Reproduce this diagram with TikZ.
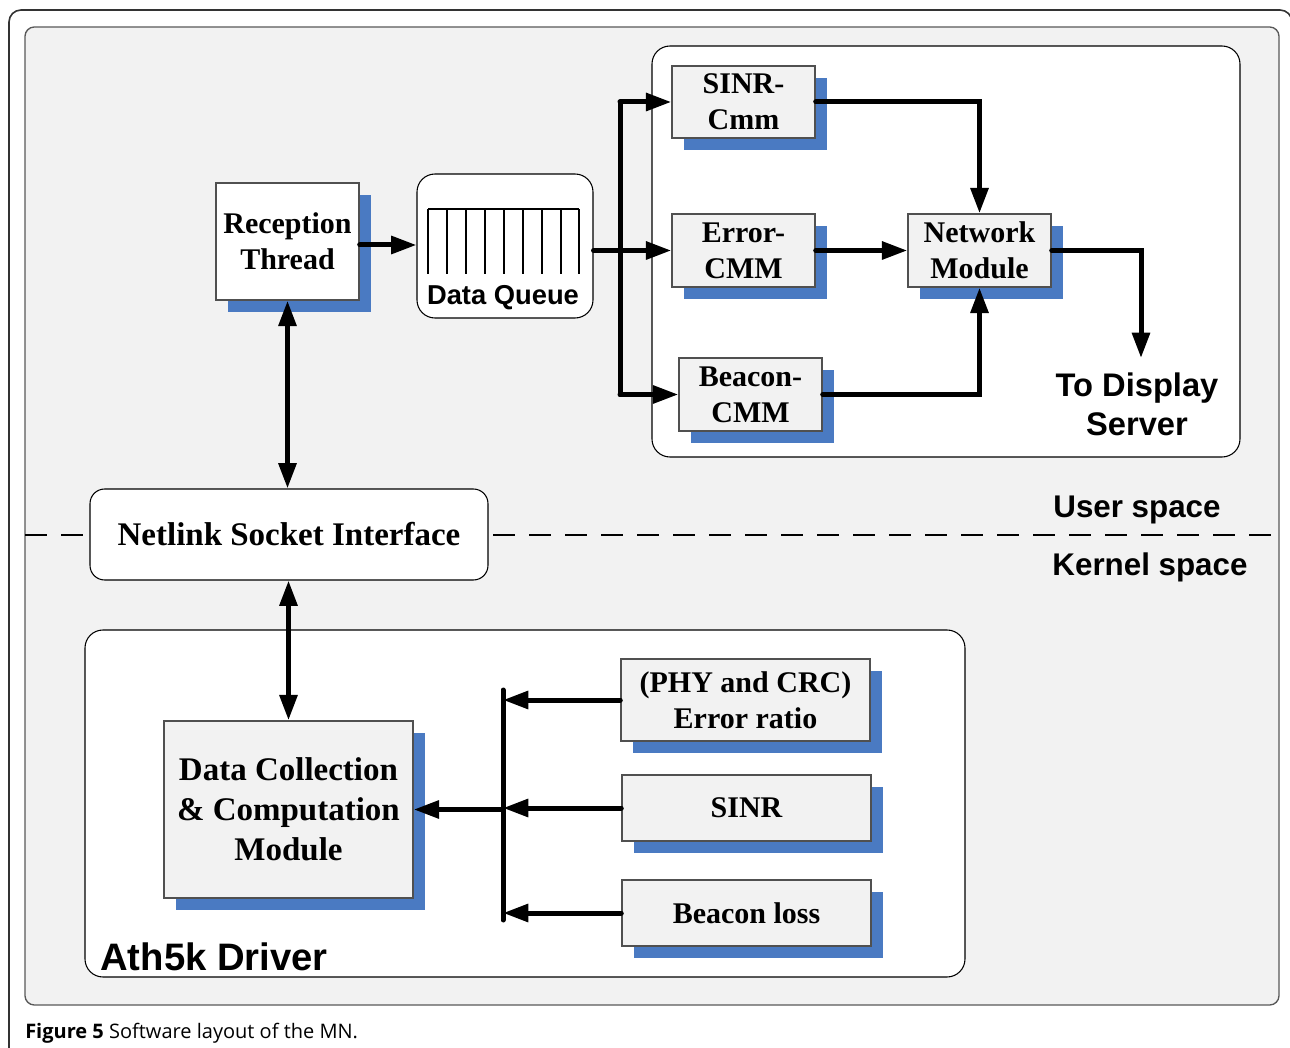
\documentclass[tikz,border=0pt]{standalone}
\usepackage{fontspec}
\setmainfont{Liberation Serif}
\setsansfont{Liberation Sans}
\newfontfamily\capfont{Open Sans}
\usetikzlibrary{arrows.meta,shadows}
\definecolor{bgray}{HTML}{F2F2F2}
\definecolor{sblue}{HTML}{4A7AC2}
\definecolor{bord}{HTML}{505050}
\begin{document}
\begin{tikzpicture}[x=0.75pt,y=-0.75pt,
  sz/.style 2 args={minimum width=#1*0.75pt, minimum height=#2*0.75pt},
  sbox/.style={draw=bord, line width=1.1pt, fill=bgray, inner sep=0pt, align=center,
    font=\fontsize{22.5}{27}\selectfont\bfseries,
    drop shadow={shadow xshift=9pt, shadow yshift=-9pt, opacity=1, fill=sblue, draw=none}},
  wbox/.style={sbox, fill=white},
  bigtxt/.style={font=\fontsize{24.75}{30}\selectfont\bfseries},
  rbox/.style={draw=black, line width=0.8pt, fill=white, rounded corners=13.5pt},
  lab/.style={font=\sffamily\bfseries\fontsize{23.5}{29}\selectfont, inner sep=0pt},
  conn/.style={line width=3.75pt, line cap=round},
  arr/.style={conn, -{Triangle[length=19pt,width=13pt]}},
  darr/.style={conn, {Triangle[length=19pt,width=13pt]}-{Triangle[length=19pt,width=13pt]}}
]
\useasboundingbox (0,0) rectangle (1290,1048);
\clip (0,0) rectangle (1290,1048);
% outer frame
\draw[line width=1.2pt, draw=black!80, rounded corners=9pt] (9,10) rectangle (1292,1100);
% inner grey panel
\draw[line width=1pt, draw=black!65, fill=bgray, rounded corners=7pt] (25,27) rectangle (1279,1005);
% user/kernel divider
\draw[line width=1.9pt, dash pattern=on 16.5pt off 10.5pt] (25,535) -- (1279,535);
% containers
\draw[rbox] (652,46) rectangle (1240,457);
\draw[rbox] (85,630) rectangle (965,977);
% boxes
\node[wbox, sz={143}{117}] (rt) at (287.5,241.5) {Reception\\Thread};
\node[sz={176}{144}, draw, line width=0.8pt, rounded corners=13.5pt, fill=white, inner sep=0pt] (dq) at (505,246) {};
\draw[line width=1.2pt] (428,209) -- (579,209);
\foreach \xx in {428,447,466,485,504,523,542,561,579} \draw[line width=1.3pt] (\xx,209) -- (\xx,274);
\node[font=\sffamily\bfseries\fontsize{20.5}{24}\selectfont, inner sep=0pt] (dqt) at (503,298) {Data Queue};
\node[sbox, sz={143}{72}] (sc) at (743.5,102) {SINR-\\Cmm};
\node[sbox, sz={143}{73}] (ec) at (743.5,250.5) {Error-\\CMM};
\node[sbox, sz={143}{73}] (bc) at (750.5,394.5) {Beacon-\\CMM};
\node[sbox, sz={143}{73}] (nm) at (979.5,250.5) {Network\\Module};
\node[lab, font=\sffamily\bfseries\fontsize{24.5}{29.5}\selectfont, align=center] (disp) at (1137,404) {To Display\\Server};
\node[sz={398}{91}, draw, line width=0.8pt, rounded corners=11pt, fill=white, inner sep=0pt, bigtxt] (ns) at (289,534.5) {Netlink Socket Interface};
\node[lab, anchor=base] (us) at (1137,518) {User space};
\node[lab, anchor=base] (ks) at (1150,576) {Kernel space};
\node[sbox, sz={249}{177}, bigtxt] (dc) at (288.5,809.5) {Data Collection\\\& Computation\\Module};
\node[sbox, sz={249}{82}] (pe) at (745.5,700) {(PHY and CRC)\\Error ratio};
\node[sbox, sz={249}{66}] (si) at (746.5,808) {SINR};
\node[sbox, sz={249}{66}] (bl) at (746.5,913) {Beacon loss};
\node[font=\sffamily\bfseries\fontsize{28.7}{34}\selectfont, inner sep=0pt, anchor=base west] (ath) at (100,970) {Ath5k Driver};
\node[font=\capfont\fontsize{15}{18}\selectfont, inner sep=0pt, anchor=base west] (cap) at (25,1038) {\textbf{Figure 5} Software layout of the MN.};
% upper connectors
\coordinate (bx) at (620,0);
\draw[arr] (rt.east |- 0,245) -- (dq.west |- 0,245);
\draw[darr] (rt.south) -- (rt.south |- ns.north);
\draw[darr] (ns.south -| dc.north) -- (dc.north);
\draw[conn] (bx |- sc.west) -- (bx |- bc.west);
\draw[arr] (dq.east |- ec.west) -- (ec.west);
\draw[arr] (bx |- sc.west) -- (sc.west);
\draw[arr] (bx |- bc.west) -- (bc.west);
\draw[arr] (sc.east) -| (nm.north);
\draw[arr] (ec.east) -- (nm.west);
\draw[arr] (bc.east) -| (nm.south);
\coordinate (dtop) at (1141,358);
\draw[arr] (nm.east) -| (dtop);
% lower connectors
\coordinate (lb) at (503,0);
\draw[conn] (503,690) -- (503,920);
\draw[arr] (pe.west) -- (lb |- pe.west);
\draw[arr] (si.west) -- (lb |- si.west);
\draw[arr] (bl.west) -- (lb |- bl.west);
\draw[arr] (lb |- dc.east) -- (dc.east);
\end{tikzpicture}
\end{document}
